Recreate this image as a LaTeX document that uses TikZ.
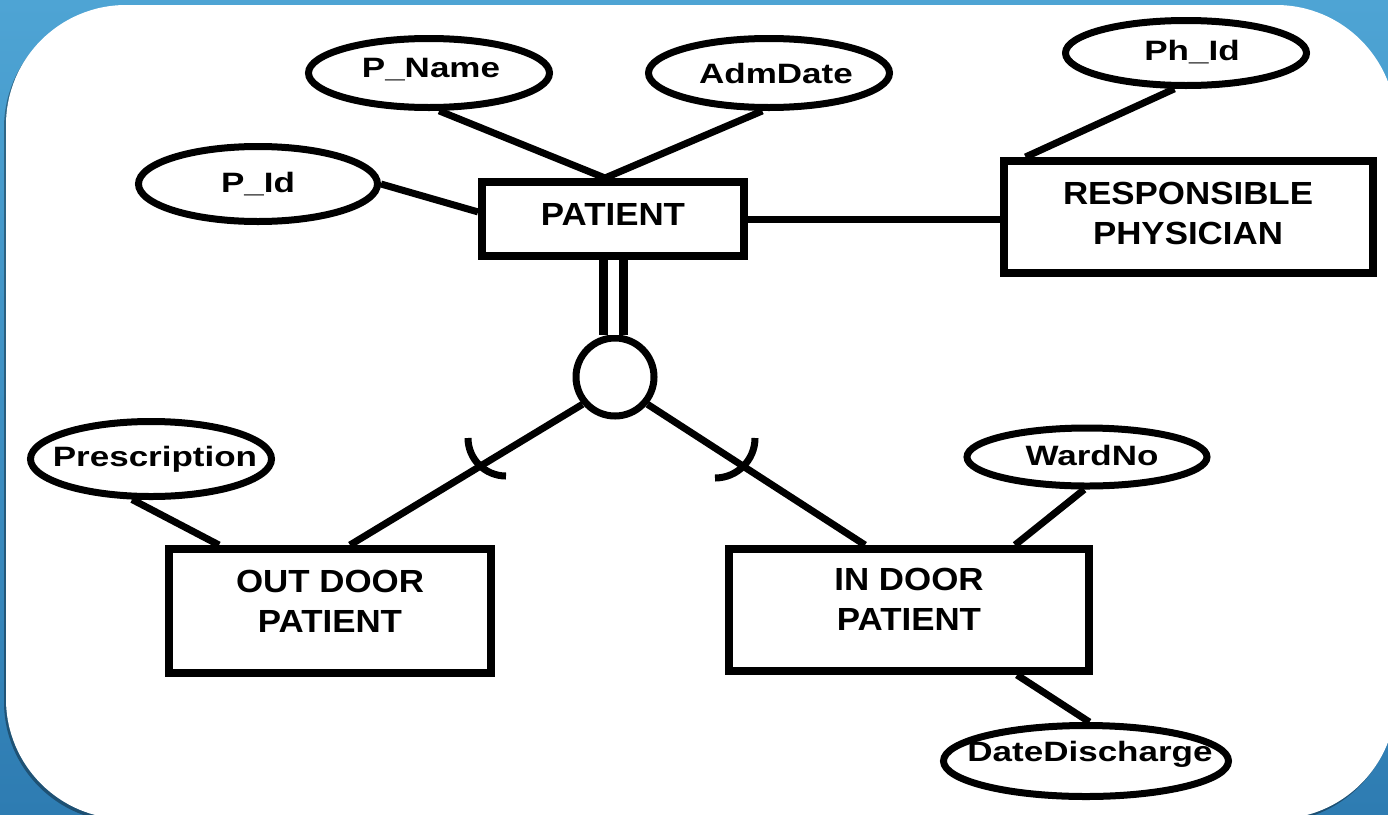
\documentclass[tikz,border=0pt]{standalone}
\usepackage{fontspec}
\usepackage{graphicx}
\setmainfont{Liberation Sans}
\usetikzlibrary{shapes.geometric,calc,shadows}

\definecolor{bgtop}{RGB}{78,164,212}
\definecolor{bgbot}{RGB}{46,124,178}

% wide lettering used inside the diagram
\newcommand\atx[1]{\scalebox{1.25}[1]{#1}}
\newcommand\etx[1]{\scalebox{1.09}[1]{\begin{tabular}{@{}c@{}}#1\end{tabular}}}

\tikzset{
  entity/.style={draw, rectangle, line width=8pt, fill=white, inner sep=0pt},
  attr/.style={draw, ellipse, line width=7pt, fill=white, inner sep=0pt},
  isacircle/.style={draw, circle, line width=7pt, fill=white, inner sep=0pt, minimum size=78pt},
  etext/.style={font=\fontsize{32}{40}\selectfont\bfseries, inner sep=0pt},
  atext/.style={font=\fontsize{28}{34}\selectfont\bfseries, inner sep=0pt},
  link/.style={line width=7pt},
}

\begin{document}
\begin{tikzpicture}[x=1pt,y=-1pt]
\useasboundingbox (0,0) rectangle (1388,814);

% slide background and white panel
\fill[top color=bgtop, bottom color=bgbot] (0,0) rectangle (1388,814);
\fill[white, rounded corners=120pt,
      drop shadow={shadow xshift=-2pt, shadow yshift=-3pt, opacity=0.35, fill=black}]
  (6,5) rectangle (1396,819);

% entities
\node[entity, minimum width=262pt, minimum height=74pt,
      label={[etext, yshift=2pt]center:{\etx{PATIENT}}}] (patient) at (613,219) {};
\node[entity, minimum width=369pt, minimum height=112pt,
      label={[etext, yshift=1pt]center:{\etx{RESPONSIBLE\\PHYSICIAN}}}] (phys) at (1188,217) {};
\node[entity, minimum width=322pt, minimum height=124pt,
      label={[etext, yshift=7pt]center:{\etx{OUT DOOR\\PATIENT}}}] (outdoor) at (330,611) {};
\node[entity, minimum width=360pt, minimum height=122pt,
      label={[etext, yshift=8pt]center:{\etx{IN DOOR\\PATIENT}}}] (indoor) at (909,610) {};

% attributes
\node[attr, minimum width=239pt, minimum height=75pt,
      label={[atext]center:{\atx{P\_Id}}}] (pid) at (258,184) {};
\node[attr, minimum width=241pt, minimum height=69pt,
      label={[atext, xshift=2pt, yshift=3pt]center:{\atx{P\_Name}}}] (pname) at (429,73) {};
\node[attr, minimum width=241pt, minimum height=69pt,
      label={[atext, xshift=7pt]center:{\atx{AdmDate}}}] (adm) at (769,73) {};
\node[attr, minimum width=241pt, minimum height=65pt,
      label={[atext, xshift=6pt, yshift=1pt]center:{\atx{Ph\_Id}}}] (phid) at (1186,53) {};
\node[attr, minimum width=241pt, minimum height=75pt,
      label={[atext, xshift=4pt]center:{\atx{Prescription}}}] (presc) at (151,459) {};
\node[attr, minimum width=240pt, minimum height=58pt,
      label={[atext, xshift=5pt, yshift=2pt]center:{\atx{WardNo}}}] (ward) at (1087,457) {};
\node[attr, minimum width=285pt, minimum height=71pt,
      label={[atext, xshift=4pt, yshift=7pt]center:{\atx{DateDischarge}}}] (dd) at (1086,761) {};

% specialisation circle
\node[isacircle] (isa) at (615,377) {};

% attribute links
\coordinate (pv) at ($(patient.north)+(-8,0)$);
\draw[link] (pid.east) -- (patient.177);
\draw[link] (pname.-75) -- (pv);
\draw[link] (adm.-100) -- (pv);
\draw[link] (phid.-108) -- ($(phys.north west)+(26,0)$);
\draw[link] (presc.-115) -- ($(outdoor.north west)+(54,0)$);
\draw[link] (ward.-95) -- ($(indoor.north east)+(-78,0)$);
\draw[link] ($(indoor.south east)+(-76,0)$) -- (dd.85);

% relationship line
\draw[link] (patient.east) -- (phys.west |- patient.east);

% total participation (double line) and subclass links
\draw[double, double distance=11pt, line width=9pt] (patient.south) -- (patient.south |- isa.north);
\draw[link] (isa.-140) -- ($(outdoor.north)+(20,0)$);
\draw[link] (isa.-40) -- ($(indoor.north)+(-44,0)$);

% subset marks on the subclass links
\draw[link] (468,438) arc[start angle=180, end angle=90, radius=38];
\draw[link] (755,438) arc[start angle=0, end angle=90, radius=40];
\end{tikzpicture}
\end{document}
